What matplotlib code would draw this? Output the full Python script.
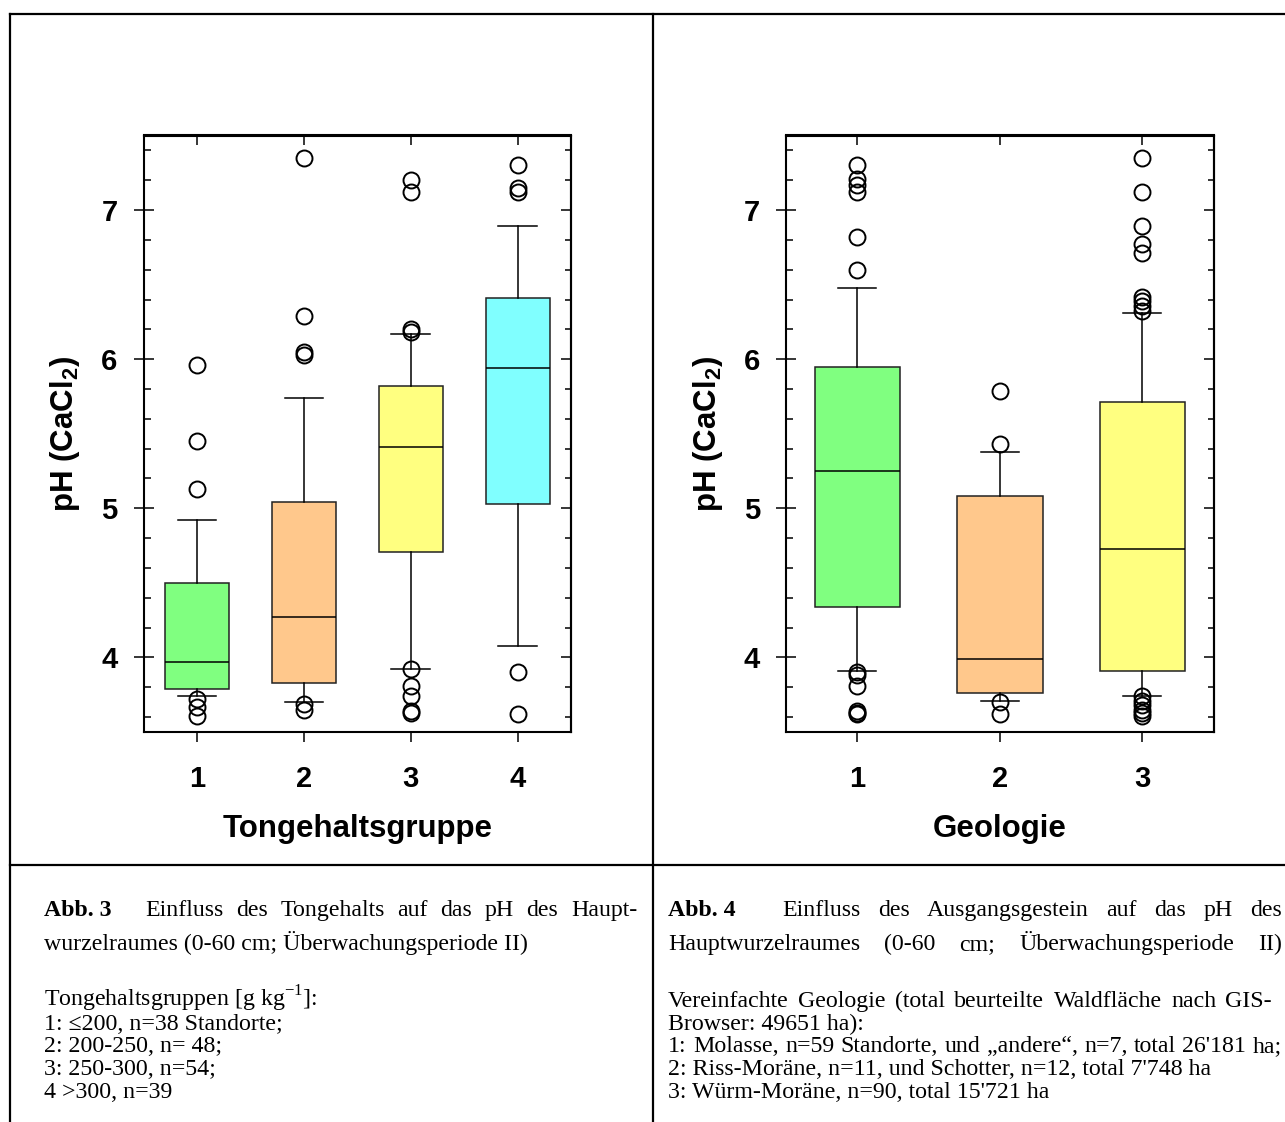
import matplotlib
matplotlib.use('Agg')
import matplotlib.pyplot as plt
from matplotlib.lines import Line2D
from matplotlib.ticker import MultipleLocator

plt.rcParams['font.family'] = ['Liberation Sans', 'DejaVu Sans']

# Abb. 3: pH nach Tongehaltsgruppe
tg_labels = ['1', '2', '3', '4']
tg_q1 = [3.79, 3.83, 4.71, 5.03]
tg_med = [3.97, 4.27, 5.41, 5.94]
tg_q3 = [4.50, 5.04, 5.82, 6.41]
tg_whislo = [3.74, 3.70, 3.92, 4.08]
tg_whishi = [4.92, 5.74, 6.17, 6.89]
tg_fliers = [
    [5.96, 5.45, 5.13, 3.72, 3.67, 3.61],
    [7.35, 6.29, 6.05, 6.03, 3.69, 3.65],
    [7.20, 7.12, 6.20, 6.18, 3.92, 3.81, 3.74, 3.64, 3.63],
    [7.30, 7.15, 7.12, 3.90, 3.62],
]
tg_colors = ['#80ff80', '#ffc88c', '#ffff80', '#80ffff']

# Abb. 4: pH nach Geologie
geo_labels = ['1', '2', '3']
geo_q1 = [4.34, 3.76, 3.91]
geo_med = [5.25, 3.99, 4.73]
geo_q3 = [5.95, 5.08, 5.71]
geo_whislo = [3.91, 3.71, 3.74]
geo_whishi = [6.48, 5.38, 6.31]
geo_fliers = [
    [7.30, 7.21, 7.17, 7.12, 6.82, 6.60, 3.90, 3.88, 3.81, 3.64, 3.63, 3.62],
    [5.79, 5.43, 3.70, 3.62],
    [7.35, 7.12, 6.89, 6.77, 6.71, 6.42, 6.39, 6.36, 6.32,
     3.74, 3.71, 3.68, 3.65, 3.63, 3.61],
]
geo_colors = ['#80ff80', '#ffc88c', '#ffff80']

W, H = 1285, 1122
fig = plt.figure(figsize=(W / 100, H / 100), dpi=100)


def rect(x0, y0, x1, y1):
    return [x0 / W, 1 - y1 / H, (x1 - x0) / W, (y1 - y0) / H]


def panel(r, labels, q1, med, q3, lo, hi, fliers, colors, capw, xlabel):
    ax = fig.add_axes(r)
    n = len(labels)
    stats = [dict(label=labels[i], q1=q1[i], med=med[i], q3=q3[i],
                  whislo=lo[i], whishi=hi[i], fliers=fliers[i]) for i in range(n)]
    bp = ax.bxp(stats, positions=range(1, n + 1), widths=0.6, capwidths=capw,
                patch_artist=True,
                boxprops=dict(edgecolor='#222222', linewidth=1.1),
                medianprops=dict(color='black', linewidth=1.1),
                whiskerprops=dict(color='black', linewidth=1.1),
                capprops=dict(color='black', linewidth=1.1),
                flierprops=dict(marker='o', markersize=11.5, markerfacecolor='none',
                                markeredgecolor='black', markeredgewidth=1.4))
    for patch, c in zip(bp['boxes'], colors):
        patch.set_facecolor(c)

    ax.set_xlim(0.5, n + 0.5)
    ax.set_ylim(3.5, 7.5)
    ax.set_yticks([4, 5, 6, 7])
    ax.yaxis.set_minor_locator(MultipleLocator(0.2))
    ax.tick_params(axis='y', which='major', direction='inout', length=14.4, width=1.1,
                   left=True, right=False, labelsize=21, pad=11.5)
    ax.tick_params(axis='y', which='minor', direction='in', length=5, width=1.1,
                   left=True, right=False)
    ax.tick_params(axis='x', which='major', direction='out', length=7.2, width=1.1,
                   bottom=True, top=False, labelsize=21, pad=16.5)
    for lbl in ax.get_xticklabels() + ax.get_yticklabels():
        lbl.set_fontweight('bold')
    for s in ax.spines.values():
        s.set_linewidth(1.5)

    # ticks on the right and top point inward only
    sy = ax.secondary_yaxis('right')
    sy.set_yticks([4, 5, 6, 7])
    sy.yaxis.set_minor_locator(MultipleLocator(0.2))
    sy.tick_params(which='major', direction='in', length=7.2, width=1.1, labelright=False)
    sy.tick_params(which='minor', direction='in', length=4.3, width=1.1)
    sx = ax.secondary_xaxis('top')
    sx.set_xticks(range(1, n + 1))
    sx.tick_params(direction='in', length=7.2, width=1.1, labeltop=False)
    for s in list(sy.spines.values()) + list(sx.spines.values()):
        s.set_linewidth(1.5)

    ax.set_ylabel(r'pH (CaCl$_\mathregular{2}$)', fontsize=22.5, fontweight='bold')
    ax.yaxis.label.set_va('center')
    ax.yaxis.set_label_coords(-0.183, 0.5)
    ax.set_xlabel(xlabel, fontsize=22.5, fontweight='bold')
    ax.xaxis.set_label_coords(0.5, -0.138)
    return ax


panel(rect(143.5, 135.5, 571, 732), tg_labels, tg_q1, tg_med, tg_q3, tg_whislo,
      tg_whishi, tg_fliers, tg_colors, 0.36, 'Tongehaltsgruppe')
panel(rect(786, 135.5, 1213.5, 732), geo_labels, geo_q1, geo_med, geo_q3, geo_whislo,
      geo_whishi, geo_fliers, geo_colors, 0.27, 'Geologie')

# table frame
for x0, y0, x1, y1 in [(10, 14, 1285, 14), (10, 14, 10, 1122),
                       (653, 14, 653, 1122), (10, 865, 1285, 865)]:
    fig.add_artist(Line2D([x0 / W, x1 / W], [1 - y0 / H, 1 - y1 / H],
                          color='black', linewidth=1.6))

serif = ['Liberation Serif', 'DejaVu Serif']
cap_fs = 17.2
renderer = fig.canvas.get_renderer()


def line(x, y, s, **kw):
    return fig.text(x / W, 1 - y / H, s, va='baseline', family=serif,
                    fontsize=cap_fs, **kw)


def justified(x0, x1, y, s):
    words = s.split(' ')
    texts = [line(0, y, w) for w in words]
    widths = [t.get_window_extent(renderer).width for t in texts]
    gap = (x1 - x0 - sum(widths)) / (len(words) - 1)
    x = x0
    for t, w in zip(texts, widths):
        t.set_x(x / W)
        x += w + gap


# caption Abb. 3
line(44, 916, 'Abb. 3', fontweight='bold')
justified(145, 637, 916, 'Einfluss des Tongehalts auf das pH des Haupt-')
line(44, 950, 'wurzelraumes (0-60 cm; Überwachungsperiode II)')
tg_notes = ['Tongehaltsgruppen [g kg$^\\mathregular{-1}$]:',
            '1: ≤200, n=38 Standorte;',
            '2: 200-250, n= 48;',
            '3: 250-300, n=54;',
            '4 >300, n=39']
for i, s in enumerate(tg_notes):
    line(44, 1007 + i * 22.7, s)

# caption Abb. 4
line(668, 916, 'Abb. 4', fontweight='bold')
justified(782, 1282, 916, 'Einfluss des Ausgangsgestein auf das pH des')
justified(668, 1282, 950, 'Hauptwurzelraumes (0-60 cm; Überwachungsperiode II)')
justified(668, 1272, 1007, 'Vereinfachte Geologie (total beurteilte Waldfläche nach GIS-')
line(668, 1007 + 22.7, 'Browser: 49651 ha):')
justified(668, 1282, 1007 + 2 * 22.7,
          '1: Molasse, n=59 Standorte, und „andere“, n=7, total 26\'181 ha;')
line(668, 1007 + 3 * 22.7, '2: Riss-Moräne, n=11, und Schotter, n=12, total 7\'748 ha')
line(668, 1007 + 4 * 22.7, '3: Würm-Moräne, n=90, total 15\'721 ha')

fig.savefig('out.png', dpi=100)
